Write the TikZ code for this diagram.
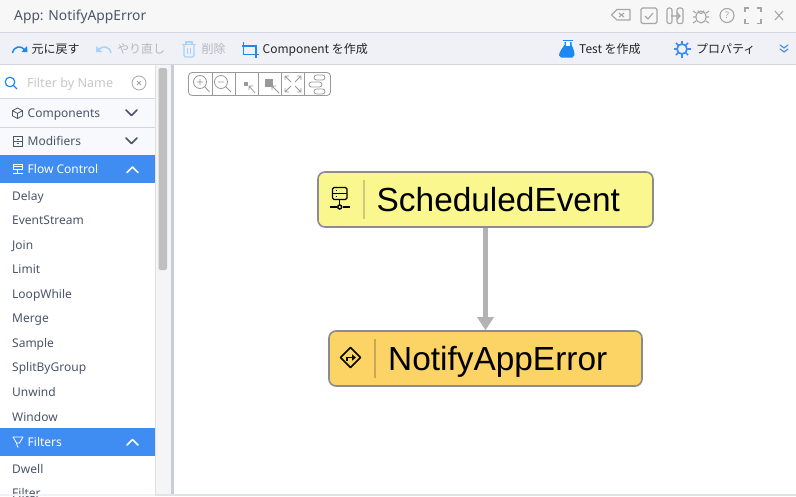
\documentclass[tikz,border=0pt]{standalone}
\usepackage{fontspec}
\setmainfont{Noto Sans}
\newfontfamily\jpfont{Noto Sans CJK JP}
\newfontfamily\nodefont{Liberation Sans}
\usetikzlibrary{arrows.meta}
\definecolor{titlebg}{HTML}{F7F7F8}
\definecolor{barbg}{HTML}{EFF1F6}
\definecolor{rulec}{HTML}{D3D6E0}
\definecolor{sidebg}{HTML}{F8F9FD}
\definecolor{gutter}{HTML}{F5F5F7}
\definecolor{accent}{HTML}{3F8CF3}
\definecolor{linkblue}{HTML}{1E88F0}
\definecolor{paleblue}{HTML}{A9D2F8}
\definecolor{ink}{HTML}{4A5568}
\definecolor{dimtext}{HTML}{B4B8BE}
\definecolor{icongray}{HTML}{A6A6A6}
\definecolor{toolgray}{HTML}{999999}
\definecolor{schedfill}{HTML}{FBF78F}
\definecolor{notifyfill}{HTML}{FBD465}
\definecolor{nodeborder}{HTML}{8C8C8C}
\definecolor{flowline}{HTML}{B3B3B3}
\definecolor{sepyellow}{HTML}{CFC97F}
\definecolor{seporange}{HTML}{C9A957}
\tikzset{
  sidelabel/.style={inner sep=0pt,anchor=base west,font=\fontsize{12}{14}\selectfont,text=ink},
  itemlabel/.style={sidelabel},
  headlabel/.style={sidelabel},
  whitelabel/.style={sidelabel,text=white},
  toollabel/.style={inner sep=0pt,anchor=base west,font=\jpfont\fontsize{12}{14}\selectfont,text=black!85},
  dimlabel/.style={inner sep=0pt,anchor=base west,font=\jpfont\fontsize{12}{14}\selectfont,text=dimtext},
  flownode/.style={draw=nodeborder,line width=1.6pt,rounded corners=7pt,inner sep=0pt,minimum height=55pt},
  flowtext/.style={inner sep=0pt,anchor=base west,font=\nodefont\fontsize{33.4}{38}\selectfont,text=black},
  ticon/.style={draw=icongray,line width=1.1pt,fill=none},
  zicon/.style={draw=toolgray,line width=.8pt,fill=none},
  chev/.style={line width=1.5pt,line cap=round,line join=round},
}
\begin{document}
\begin{tikzpicture}[x=1pt,y=-1pt]
\useasboundingbox (0,0) rectangle (796,496);
\clip (0,0) rectangle (796,496);
% backgrounds
\fill[white] (0,0) rectangle (796,496);
\fill[titlebg] (0,0) rectangle (796,32);
\fill[barbg] (0,33) rectangle (796,64);
\fill[rulec] (0,32) rectangle (796,33.2);
\fill[rulec] (0,64) rectangle (796,65);
\fill[gutter] (155,65) rectangle (174,496);
\fill[rulec!90!gray] (170.5,65) rectangle (174,496);
\fill[black!25,rounded corners=2pt] (158.5,68) rectangle (167,270);
\draw[black!12,line width=.6pt] (155.3,65) -- (155.3,496);
% title
\node[inner sep=0pt,anchor=base west,font=\fontsize{13.8}{16}\selectfont,text=ink] (title) at (14,20.5) {App: NotifyAppError};
% window icons
\begin{scope}[ticon]
\draw[line join=round] (622,9.5) -- (630,9.5) -- (630,20) -- (617,20) -- (611.5,15) -- (617,9.5) -- cycle;
\draw (619,13) -- (624,17) (624,13) -- (619,17);
\draw[rounded corners=1.5pt] (641,8) rectangle (657,23.5);
\draw (645,16) -- (648,19) -- (653,13);
\draw[rounded corners=2pt] (672,8) -- (667,8) -- (667,23.5) -- (672,23.5) -- cycle;
\draw[rounded corners=2pt] (677,8) -- (683,8) -- (683,23.5) -- (677,23.5) -- cycle;
\draw (671,16) -- (680,16) (677,12.5) -- (680,16) -- (677,19.5);
\draw (701,17) ellipse (5pt and 6pt);
\draw (698,10.5) arc (180:360:3pt);
\draw (696,13) -- (693,11) (696,17) -- (693,17) (696,21) -- (693,23) (706,13) -- (709,11) (706,17) -- (709,17) (706,21) -- (709,23);
\draw (727,15.5) circle (7pt);
\node[inner sep=0pt,font=\fontsize{9}{10}\selectfont,text=icongray] (qmark) at (727,15.5) {?};
\draw (745,12) -- (745,8) -- (749,8) (757,8) -- (761,8) -- (761,12) (761,19) -- (761,23.5) -- (757,23.5) (749,23.5) -- (745,23.5) -- (745,19);
\draw (775,11) -- (783,20) (783,11) -- (775,20);
\end{scope}
% toolbar
\draw[linkblue,line width=1.5pt] (12.5,53) .. controls (14,46) and (21,45) .. (25,50);
\fill[linkblue] (27,46) -- (27.5,52) -- (21.5,52) -- cycle;
\node[toollabel] (undo) at (31.5,53.5) {元に戻す};
\draw[paleblue,line width=1.5pt] (111,53) .. controls (109.5,46) and (102.5,45) .. (98.5,50);
\fill[paleblue] (96.5,46) -- (96,52) -- (102,52) -- cycle;
\node[dimlabel] (redo) at (117,53.5) {やり直し};
\begin{scope}[paleblue,line width=1.1pt]
\draw (182,44.5) -- (196,44.5) (186,44) -- (186,42) -- (192,42) -- (192,44);
\draw[rounded corners=1.5pt] (184,44.5) -- (184,57) -- (194,57) -- (194,44.5);
\draw (187.5,48) -- (187.5,54) (190.5,48) -- (190.5,54);
\end{scope}
\node[dimlabel] (del) at (201.5,53.5) {削除};
\draw[linkblue,line width=1.7pt] (242,46) -- (256,46) -- (256,57.5) (243.5,42) -- (243.5,54.5) -- (258.5,54.5);
\node[toollabel] (comp) at (262.5,53.5) {Component を作成};
\fill[linkblue] (559,55.5) .. controls (559,52) and (563,47) .. (564.5,45) -- (564.5,42) -- (571.5,42) -- (571.5,45) .. controls (573,47) and (574.5,52) .. (574.5,55) -- (572.5,57.5) -- (561,57.5) -- cycle;
\fill[white] (566,42) rectangle (570,46);
\draw[linkblue,line width=1pt] (562.5,40.5) -- (573,40.5);
\node[toollabel] (test) at (579,53.5) {Test を作成};
\draw[accent,line width=1.7pt] (682,49) circle (5pt);
\foreach \a in {0,45,...,315} \draw[accent,line width=1.7pt] (682,49) ++(\a:5pt) -- ++(\a:3.5pt);
\node[toollabel] (prop) at (696,53) {プロパティ};
\draw[accent,line width=1.1pt,line cap=round] (780,45) -- (784,48) -- (788,45) (780,49) -- (784,52) -- (788,49);
% sidebar search
\draw[linkblue,line width=1.2pt] (10,82) circle (4.8pt);
\draw[linkblue,line width=1.2pt] (13.5,85.5) -- (17,89);
\node[inner sep=0pt,anchor=base west,font=\fontsize{12.6}{14}\selectfont,text=black!22] (filter) at (27,87) {Filter by Name};
\draw[black!35,line width=.8pt] (139,83) circle (7pt);
\draw[black!35,line width=.8pt] (137,81) -- (141,85) (141,81) -- (137,85);
% sidebar headers
\fill[sidebg] (0,98.5) rectangle (155,155);
\draw[rulec,line width=.7pt] (0,98.5) -- (155,98.5) (0,127) -- (155,127);
\fill[accent] (0,155) rectangle (155,183);
\fill[accent] (0,428) rectangle (155,456);
\node[headlabel] (hcomp) at (27.5,117.5) {Components};
\node[headlabel] (hmod) at (27.5,145.5) {Modifiers};
\node[whitelabel] (hflow) at (27.5,173.5) {Flow Control};
\node[whitelabel] (hfilt) at (27.5,446) {Filters};
\draw[ink,line width=.8pt,line join=round] (17.5,108) -- (22.5,110.7) -- (22.5,115.8) -- (17.5,118.5) -- (12.5,115.8) -- (12.5,110.7) -- cycle (12.5,110.7) -- (17.5,113.4) -- (22.5,110.7) (17.5,113.4) -- (17.5,118.5);
\draw[ink,line width=.8pt] (13,136.5) rectangle (22.5,146) (13,141.2) -- (22.5,141.2) (16.5,139) -- (19,139) (16.5,143.5) -- (19,143.5);
\draw[white,line width=.8pt] (13.5,164) rectangle (22,169.5) (13.5,166.7) -- (22,166.7) (17.7,169.5) -- (17.7,173) (13,173) -- (22.5,173);
\draw[white,line width=.8pt,line join=round] (13,437) -- (23,437) -- (19.5,443) -- (16.5,443) -- cycle (16.5,443) -- (17.5,447) -- (18.5,447);
\draw[ink,chev] (126,110) -- (131.5,115.5) -- (137,110);
\draw[ink,chev] (126,138) -- (131.5,143.5) -- (137,138);
\draw[white,chev] (127,172.5) -- (132.5,167) -- (138,172.5);
\draw[white,chev] (127,445) -- (132.5,439.5) -- (138,445);
% items
\node[itemlabel] (i1) at (12,200.3) {Delay};
\node[itemlabel] (i2) at (12,224.5) {EventStream};
\node[itemlabel] (i3) at (12,249) {Join};
\node[itemlabel] (i4) at (12,273.5) {Limit};
\node[itemlabel] (i5) at (12,298.3) {LoopWhile};
\node[itemlabel] (i6) at (12,322.3) {Merge};
\node[itemlabel] (i7) at (12,347.3) {Sample};
\node[itemlabel] (i8) at (12,371.3) {SplitByGroup};
\node[itemlabel] (i9) at (12,396.3) {Unwind};
\node[itemlabel] (i10) at (12,421) {Window};
\node[itemlabel] (i11) at (12,473) {Dwell};
\node[itemlabel] (i12) at (12,497.5) {Filter};
\fill[barbg] (0,494) rectangle (796,496);
\fill[rulec!70] (155,494) rectangle (796,496);
% zoom toolbar
\draw[toolgray,line width=.8pt,rounded corners=3.5pt,fill=white] (188.5,72.5) rectangle (330.5,95.5);
\draw[toolgray,line width=.8pt] (212.5,72.5) -- (212.5,95.5) (235.5,72.5) -- (235.5,95.5) (258.5,72.5) -- (258.5,95.5) (281.5,72.5) -- (281.5,95.5) (304.5,72.5) -- (304.5,95.5);
\begin{scope}[zicon]
\draw (200,82) circle (6.5pt) (204.7,86.7) -- (209.5,92) (197,82) -- (203,82) (200,79) -- (200,85);
\draw (221,82) circle (6.5pt) (225.7,86.7) -- (231,92) (218,82) -- (224,82);
\draw (249,86) -- (255,93) (249,86) -- (253,86) (249,86) -- (249,90);
\draw (272,86) -- (279,93) (272,86) -- (276,86) (272,86) -- (272,90);
\draw (285,76) -- (291,82) (285,76) -- (285,80) (285,76) -- (289,76);
\draw (301,76) -- (295,82) (301,76) -- (301,80) (301,76) -- (297,76);
\draw (285,92) -- (291,86) (285,92) -- (285,88) (285,92) -- (289,92);
\draw (301,92) -- (295,86) (301,92) -- (301,88) (301,92) -- (297,92);
\draw[rounded corners=2.5pt] (314,75) rectangle (325,80) (309,82) rectangle (322,87) (314,89) rectangle (325,94);
\end{scope}
\fill[toolgray] (244,82) rectangle (248,86);
\fill[toolgray] (265,79) rectangle (273,87);
% flow nodes
\node[flownode,fill=schedfill,minimum width=335pt] (sched) at (485.5,199.5) {};
\node[flownode,fill=notifyfill,minimum width=313pt] (notify) at (485.5,358.5) {};
\node[flowtext] (schedtext) at (376.5,211) {ScheduledEvent};
\node[flowtext] (notifytext) at (388,370) {NotifyAppError};
\draw[sepyellow,line width=1.1pt] (364,180) -- (364,219);
\draw[seporange,line width=1.1pt] (375,339) -- (375,378);
% node icons
\begin{scope}[black,line width=1.4pt]
\draw[rounded corners=1.5pt] (332.5,187.5) rectangle (347,199.5);
\draw (332.5,193.5) -- (347,193.5) (335.5,190.5) -- (337,190.5) (335.5,196.5) -- (337,196.5);
\draw (339.7,199.5) -- (339.7,205) (329.5,207) -- (337,207) (342.5,207) -- (349.5,207);
\draw (339.7,207) circle (2pt);
\draw[line join=round,line width=1.6pt] (350.5,347.5) -- (360.5,357.5) -- (350.5,367.5) -- (340.5,357.5) -- cycle;
\draw[line width=1.3pt] (347,361) -- (347,357.5) -- (353,357.5);
\fill (352,354.3) -- (356,357.5) -- (352,360.7) -- cycle;
\end{scope}
% connector
\draw[flowline,line width=4.4pt,-{Triangle[length=13pt,width=16pt]}] (sched.south) -- (notify.north);
\end{tikzpicture}
\end{document}
